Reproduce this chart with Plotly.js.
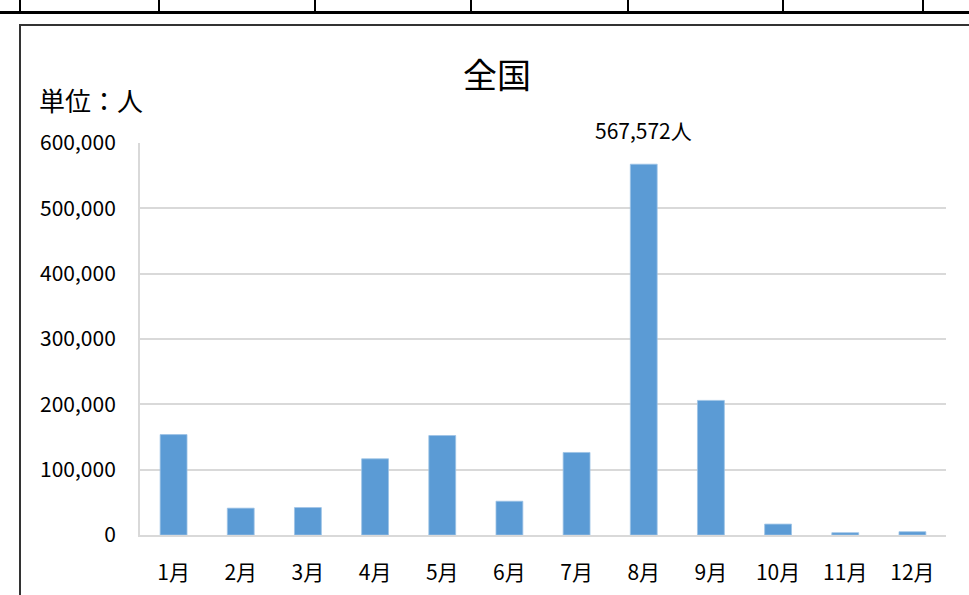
<!DOCTYPE html>
<html>
<head>
<meta charset="utf-8">
<script src="https://cdn.plot.ly/plotly-3.0.1.min.js"></script>
<style>
html,body{margin:0;padding:0;background:#fff;width:969px;height:595px;overflow:hidden;}
#chart{position:absolute;left:0;top:0;width:969px;height:595px;}
.ln{position:absolute;background:#000;pointer-events:none;z-index:5;}
</style>
</head>
<body>
<div id="chart"></div>
<!-- table fragment above the chart -->
<div class="ln" style="left:0;top:11px;width:969px;height:3px;"></div>
<div class="ln" style="left:19px;top:0;width:2px;height:12px;"></div>
<div class="ln" style="left:158px;top:0;width:2px;height:12px;"></div>
<div class="ln" style="left:314px;top:0;width:2px;height:12px;"></div>
<div class="ln" style="left:470px;top:0;width:2px;height:12px;"></div>
<div class="ln" style="left:627px;top:0;width:2px;height:12px;"></div>
<div class="ln" style="left:782px;top:0;width:2px;height:12px;"></div>
<div class="ln" style="left:922px;top:0;width:2px;height:12px;"></div>
<!-- chart box border -->
<div class="ln" style="left:19px;top:24px;width:950px;height:2px;background:#333;"></div>
<div class="ln" style="left:19px;top:24px;width:2px;height:571px;background:#333;"></div>
<script>
const months = ["1月","2月","3月","4月","5月","6月","7月","8月","9月","10月","11月","12月"];
const visitors = [153700, 41100, 42000, 116600, 152200, 51700, 126300, 567572, 206000, 16700, 3500, 5000];
const peakLabel = "567,572人";
const yTicks = [0, 100000, 200000, 300000, 400000, 500000, 600000];
const yTickText = ["0","100,000","200,000","300,000","400,000","500,000","600,000"];

const font = "'Noto Sans CJK JP', 'Noto Sans', sans-serif";
const peakIdx = visitors.indexOf(Math.max(...visitors));

Plotly.newPlot('chart', [{
  type: 'bar',
  x: months,
  y: visitors,
  marker: {color: '#5B9BD5', line: {color: '#9DC3E6', width: 0.8}},
  hoverinfo: 'x+y'
}], {
  width: 969, height: 595,
  margin: {l: 140, r: 23, t: 143, b: 60, pad: 0},
  paper_bgcolor: 'rgba(0,0,0,0)',
  plot_bgcolor: '#fff',
  bargap: 0.6,
  showlegend: false,
  title: {
    text: '全国',
    font: {family: font, size: 34, color: '#000'},
    xref: 'container', x: 0.513, xanchor: 'center',
    yref: 'container', y: 0.872, yanchor: 'middle'
  },
  xaxis: {
    type: 'category',
    tickfont: {family: font, size: 21, color: '#000'},
    showline: true, linecolor: '#d9d9d9', linewidth: 2,
    ticks: '', ticklabelstandoff: 18,
    showgrid: false, zeroline: false, fixedrange: true
  },
  yaxis: {
    range: [0, 600000],
    tickvals: yTicks,
    ticktext: yTickText,
    tickfont: {family: font, size: 21, color: '#000'},
    showline: true, linecolor: '#d9d9d9', linewidth: 2,
    gridcolor: '#d9d9d9', gridwidth: 2,
    ticks: '', ticklabelstandoff: 18,
    zeroline: false, fixedrange: true
  },
  annotations: [
    {
      text: '単位：人', xref: 'paper', yref: 'paper',
      x: -0.128, y: 1.112, xanchor: 'left', yanchor: 'middle',
      showarrow: false, font: {family: font, size: 26, color: '#000'}
    },
    {
      text: peakLabel, x: months[peakIdx], y: visitors[peakIdx],
      xref: 'x', yref: 'y', yanchor: 'bottom', yshift: 17,
      showarrow: false, font: {family: font, size: 21, color: '#000'}
    }
  ]
}, {displayModeBar: false, staticPlot: true});
</script>
</body>
</html>
